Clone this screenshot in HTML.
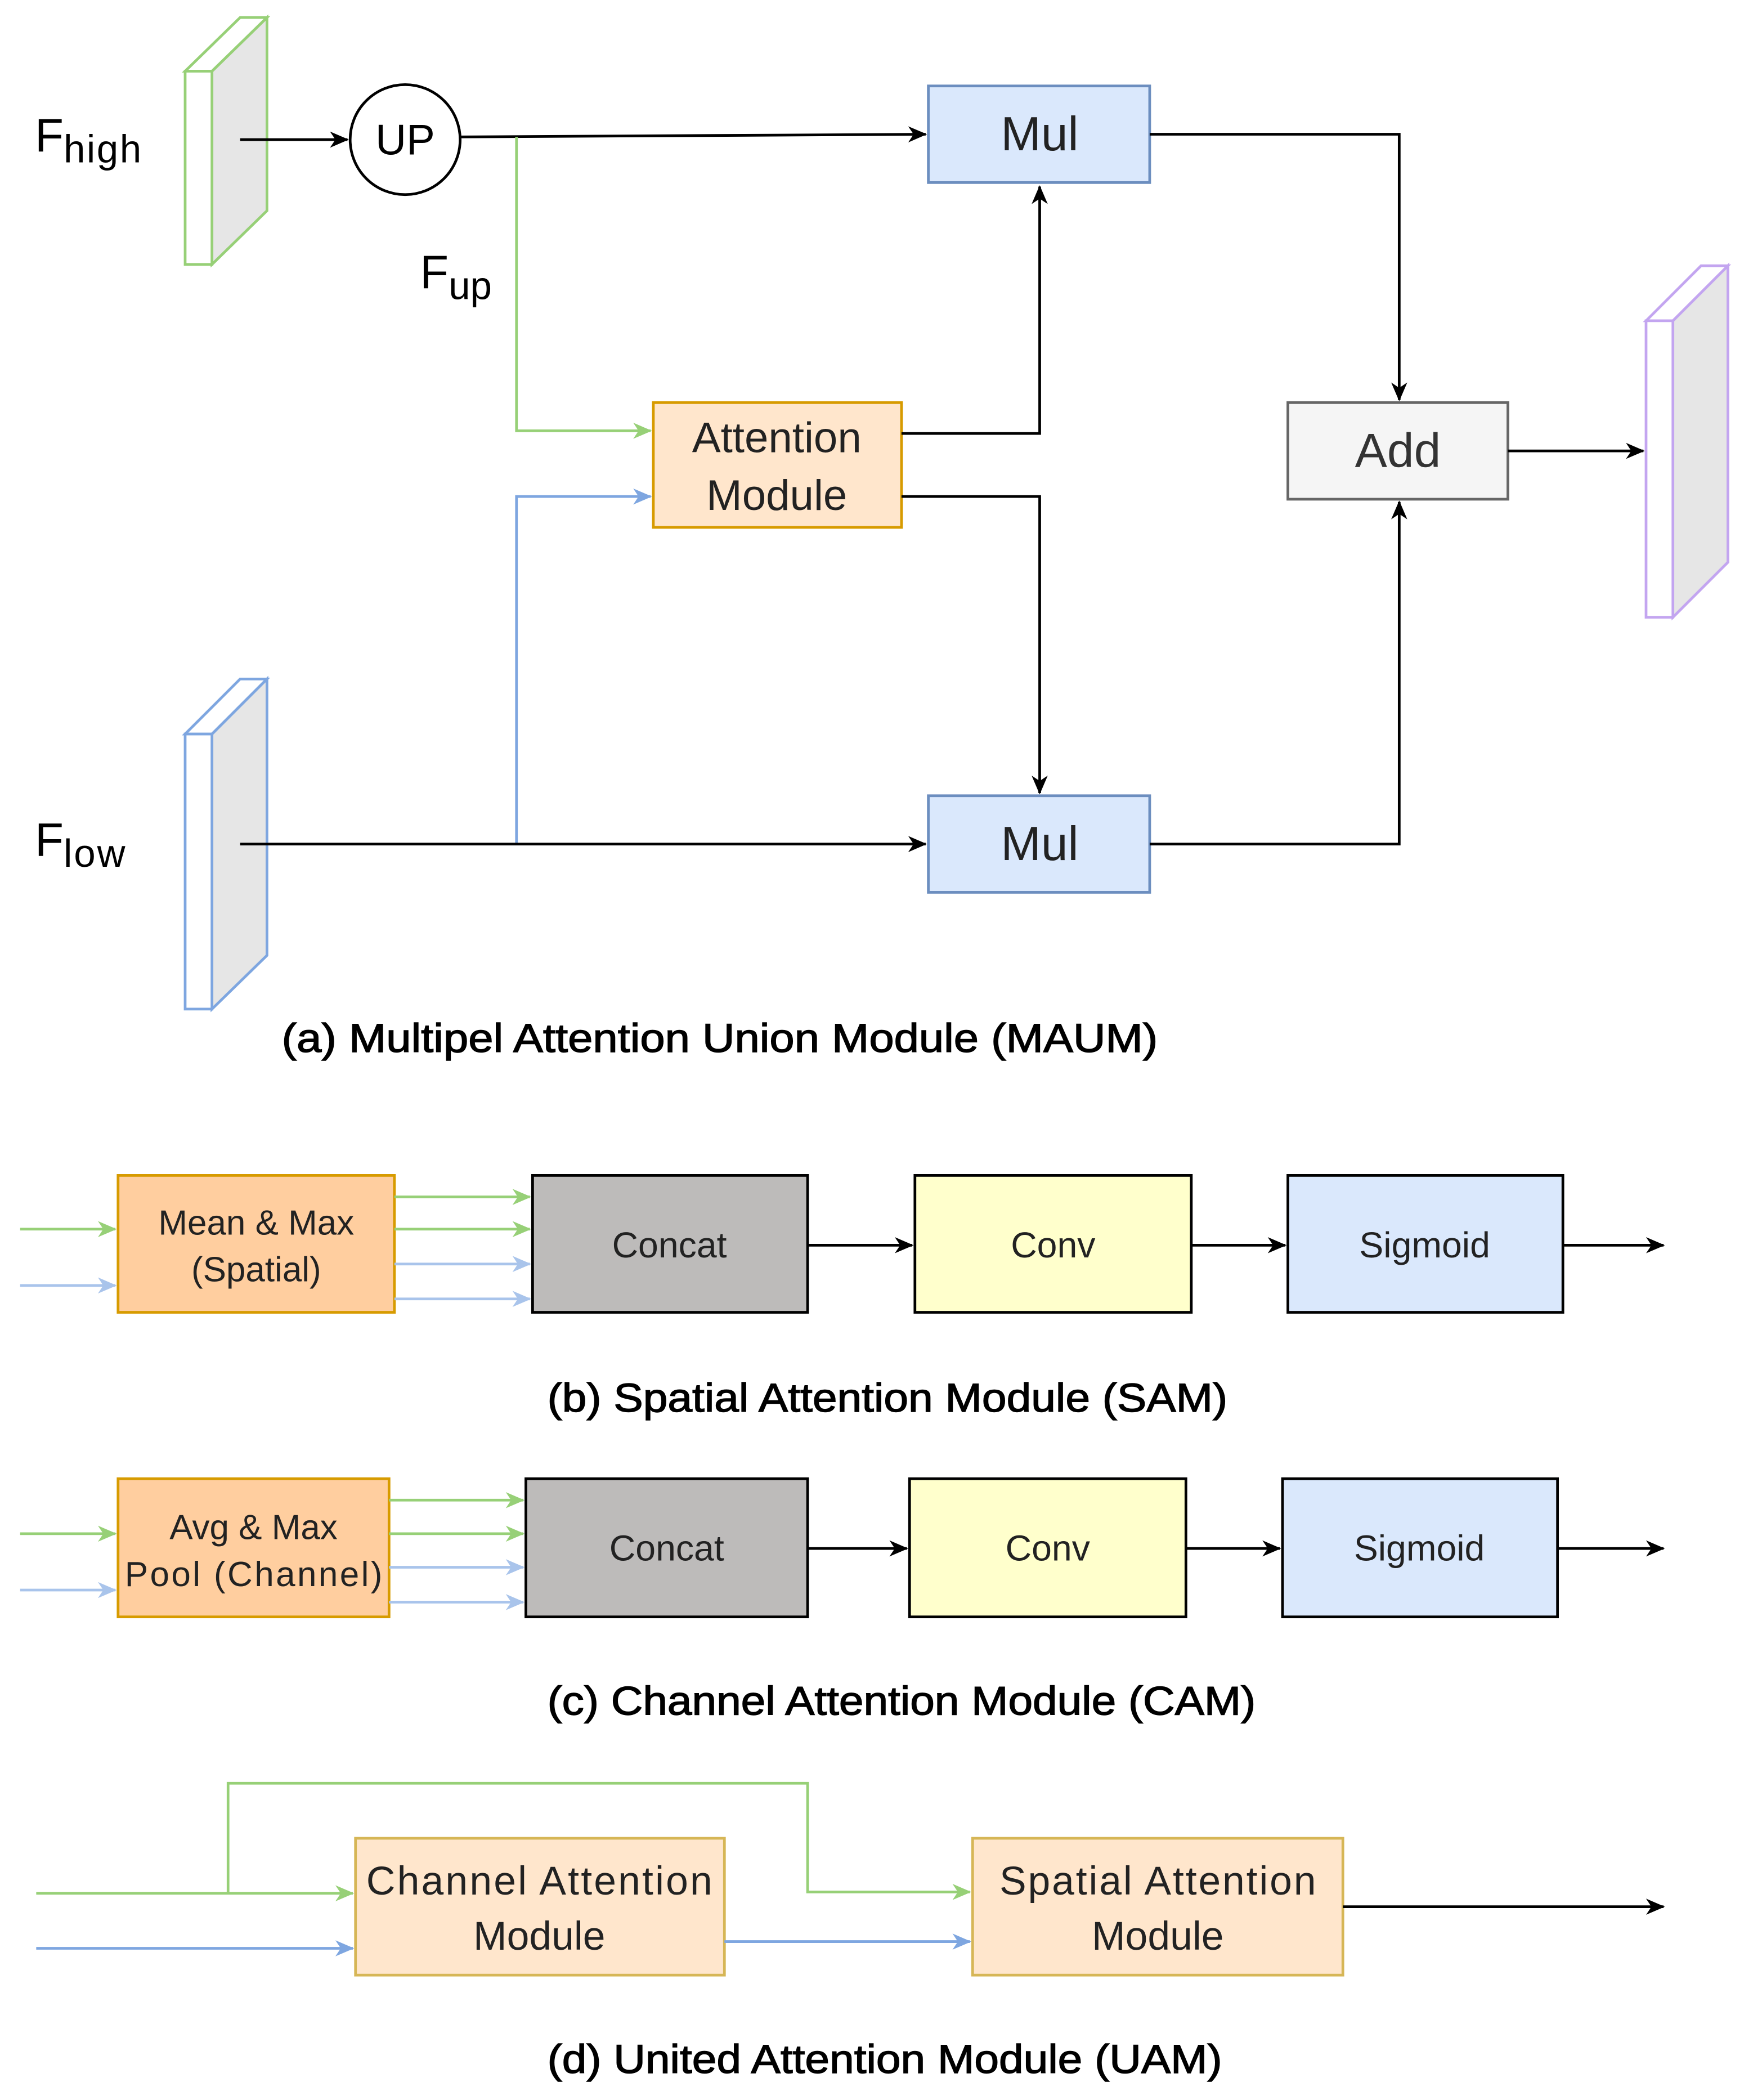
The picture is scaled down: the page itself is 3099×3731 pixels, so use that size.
<!DOCTYPE html>
<html><head><meta charset="utf-8"><style>html,body{margin:0;padding:0;background:#fff}svg{display:block}</style></head>
<body>
<svg width="3099" height="3731" viewBox="0 0 1300 1565" xmlns="http://www.w3.org/2000/svg" font-family="Liberation Sans, Arial, sans-serif">
<defs>
<marker id="ak" markerWidth="14" markerHeight="14" refX="13" refY="7" orient="auto" markerUnits="userSpaceOnUse"><path d="M0,1 L14,7 L0,13 L4,7z" fill="#000"/></marker>
<marker id="ag" markerWidth="14" markerHeight="14" refX="13" refY="7" orient="auto" markerUnits="userSpaceOnUse"><path d="M0,1 L14,7 L0,13 L4,7z" fill="#97D077"/></marker>
<marker id="ab" markerWidth="14" markerHeight="14" refX="13" refY="7" orient="auto" markerUnits="userSpaceOnUse"><path d="M0,1 L14,7 L0,13 L4,7z" fill="#7EA6E0"/></marker>
<marker id="al" markerWidth="14" markerHeight="14" refX="13" refY="7" orient="auto" markerUnits="userSpaceOnUse"><path d="M0,1 L14,7 L0,13 L4,7z" fill="#A9C4EB"/></marker>
</defs>
<g stroke-width="2">
<polygon points="158,53 199,13 199,157 158,197" fill="#E6E6E6" stroke="#97D077"/>
<polygon points="138,53 179,13 199,13 158,53" fill="#fff" stroke="#97D077"/>
<rect x="138" y="53" width="20" height="144" fill="#fff" stroke="#97D077"/>
<polygon points="158,547 199,506 199,712 158,752" fill="#E6E6E6" stroke="#7EA6E0"/>
<polygon points="138,547 179,506 199,506 158,547" fill="#fff" stroke="#7EA6E0"/>
<rect x="138" y="547" width="20" height="205" fill="#fff" stroke="#7EA6E0"/>
<polygon points="1247,239 1288,198 1288,419 1247,460" fill="#E6E6E6" stroke="#C3A5F0"/>
<polygon points="1227,239 1268,198 1288,198 1247,239" fill="#fff" stroke="#C3A5F0"/>
<rect x="1227" y="239" width="20" height="221" fill="#fff" stroke="#C3A5F0"/>

<circle cx="302" cy="104" r="41" fill="#fff" stroke="#000"/>
<rect x="692" y="64" width="165" height="72" fill="#DAE8FC" stroke="#6C8EBF"/>
<rect x="692" y="593" width="165" height="72" fill="#DAE8FC" stroke="#6C8EBF"/>
<rect x="487" y="300" width="185" height="93" fill="#FFE6CC" stroke="#D79B00"/>
<rect x="960" y="300" width="164" height="72" fill="#F5F5F5" stroke="#666"/>

<g fill="none">
<path d="M179,104 L259,104" stroke="#000" marker-end="url(#ak)"/>
<path d="M343,102 L690,100" stroke="#000" marker-end="url(#ak)"/>
<path d="M385,102 L385,321 L485,321" stroke="#97D077" marker-end="url(#ag)"/>
<path d="M385,629 L385,370 L485,370" stroke="#7EA6E0" marker-end="url(#ab)"/>
<path d="M179,629 L690,629" stroke="#000" marker-end="url(#ak)"/>
<path d="M672,323 L775,323 L775,139" stroke="#000" marker-end="url(#ak)"/>
<path d="M672,370 L775,370 L775,591" stroke="#000" marker-end="url(#ak)"/>
<path d="M857,100 L1043,100 L1043,298" stroke="#000" marker-end="url(#ak)"/>
<path d="M857,629 L1043,629 L1043,374" stroke="#000" marker-end="url(#ak)"/>
<path d="M1124,336 L1225,336" stroke="#000" marker-end="url(#ak)"/>
</g>

<rect x="88" y="876" width="206" height="102" fill="#FFCE9F" stroke="#D79B00"/>
<rect x="397" y="876" width="205" height="102" fill="#BDBBBA" stroke="#000"/>
<rect x="682" y="876" width="206" height="102" fill="#FFFFCC" stroke="#000"/>
<rect x="960" y="876" width="205" height="102" fill="#DAE8FC" stroke="#000"/>
<g fill="none">
<path d="M15,916 L86,916" stroke="#97D077" marker-end="url(#ag)"/>
<path d="M15,958 L86,958" stroke="#A9C4EB" marker-end="url(#al)"/>
<path d="M294,892 L395,892" stroke="#97D077" marker-end="url(#ag)"/>
<path d="M294,916 L395,916" stroke="#97D077" marker-end="url(#ag)"/>
<path d="M294,942 L395,942" stroke="#A9C4EB" marker-end="url(#al)"/>
<path d="M294,968 L395,968" stroke="#A9C4EB" marker-end="url(#al)"/>
<path d="M602,928 L680,928" stroke="#000" marker-end="url(#ak)"/>
<path d="M888,928 L958,928" stroke="#000" marker-end="url(#ak)"/>
<path d="M1165,928 L1240,928" stroke="#000" marker-end="url(#ak)"/>
</g>
<rect x="88" y="1102" width="202" height="103" fill="#FFCE9F" stroke="#D79B00"/>
<rect x="392" y="1102" width="210" height="103" fill="#BDBBBA" stroke="#000"/>
<rect x="678" y="1102" width="206" height="103" fill="#FFFFCC" stroke="#000"/>
<rect x="956" y="1102" width="205" height="103" fill="#DAE8FC" stroke="#000"/>
<g fill="none">
<path d="M15,1143 L86,1143" stroke="#97D077" marker-end="url(#ag)"/>
<path d="M15,1185 L86,1185" stroke="#A9C4EB" marker-end="url(#al)"/>
<path d="M290,1118 L390,1118" stroke="#97D077" marker-end="url(#ag)"/>
<path d="M290,1143 L390,1143" stroke="#97D077" marker-end="url(#ag)"/>
<path d="M290,1168 L390,1168" stroke="#A9C4EB" marker-end="url(#al)"/>
<path d="M290,1194 L390,1194" stroke="#A9C4EB" marker-end="url(#al)"/>
<path d="M602,1154 L676,1154" stroke="#000" marker-end="url(#ak)"/>
<path d="M884,1154 L954,1154" stroke="#000" marker-end="url(#ak)"/>
<path d="M1161,1154 L1240,1154" stroke="#000" marker-end="url(#ak)"/>
</g>
<rect x="265" y="1370" width="275" height="102" fill="#FFE6CC" stroke="#D6B656"/>
<rect x="725" y="1370" width="276" height="102" fill="#FFE6CC" stroke="#D6B656"/>
<g fill="none">
<path d="M27,1411 L263,1411" stroke="#97D077" marker-end="url(#ag)"/>
<path d="M170,1411 L170,1329 L602,1329 L602,1410 L723,1410" stroke="#97D077" marker-end="url(#ag)"/>
<path d="M27,1452 L263,1452" stroke="#7EA6E0" marker-end="url(#ab)"/>
<path d="M540,1447 L723,1447" stroke="#7EA6E0" marker-end="url(#ab)"/>
<path d="M1001,1421 L1240,1421" stroke="#000" marker-end="url(#ak)"/>
</g>
</g>

<g fill="#000">
<text x="26" y="113" font-size="35">F<tspan font-size="29" dy="8" textLength="58">high</tspan></text>
<text x="26" y="638" font-size="35">F<tspan font-size="29" dy="8" textLength="46">low</tspan></text>
<text x="313" y="215" font-size="35">F<tspan font-size="29" dy="8">up</tspan></text>
<text x="302" y="115" font-size="32" text-anchor="middle">UP</text>
<text x="775" y="112" font-size="36" text-anchor="middle" fill="#222">Mul</text>
<text x="775" y="641" font-size="36" text-anchor="middle" fill="#222">Mul</text>
<text x="1042" y="348" font-size="36" text-anchor="middle" fill="#333">Add</text>
<text x="579" y="337" font-size="32" text-anchor="middle" fill="#222">Attention</text>
<text x="579" y="380" font-size="32" text-anchor="middle" fill="#222">Module</text>
<g stroke="#000" stroke-width="0.6">
<text x="210" y="784" font-size="30" textLength="653" lengthAdjust="spacingAndGlyphs">(a)  Multipel Attention Union Module (MAUM)</text>
<text x="408" y="1052" font-size="30" textLength="507" lengthAdjust="spacingAndGlyphs">(b) Spatial Attention Module (SAM)</text>
<text x="408" y="1278" font-size="30" textLength="528" lengthAdjust="spacingAndGlyphs">(c) Channel Attention Module (CAM)</text>
<text x="408" y="1545" font-size="30" textLength="503" lengthAdjust="spacingAndGlyphs">(d) United Attention Module (UAM)</text>
</g>

<text x="191" y="920" font-size="26" text-anchor="middle" fill="#222">Mean &amp; Max</text>
<text x="191" y="955" font-size="26" text-anchor="middle" fill="#222">(Spatial)</text>
<text x="499" y="937" font-size="27" text-anchor="middle" fill="#222">Concat</text>
<text x="785" y="937" font-size="27" text-anchor="middle" fill="#222">Conv</text>
<text x="1062" y="937" font-size="27" text-anchor="middle" fill="#222">Sigmoid</text>

<text x="189" y="1147" font-size="26" text-anchor="middle" fill="#222">Avg &amp; Max</text>
<text x="189" y="1182" font-size="26" text-anchor="middle" fill="#222" textLength="192">Pool (Channel)</text>
<text x="497" y="1163" font-size="27" text-anchor="middle" fill="#222">Concat</text>
<text x="781" y="1163" font-size="27" text-anchor="middle" fill="#222">Conv</text>
<text x="1058" y="1163" font-size="27" text-anchor="middle" fill="#222">Sigmoid</text>

<text x="402" y="1412" font-size="30" text-anchor="middle" fill="#222" textLength="258">Channel Attention</text>
<text x="402" y="1453" font-size="30" text-anchor="middle" fill="#222">Module</text>
<text x="863" y="1412" font-size="30" text-anchor="middle" fill="#222" textLength="236">Spatial Attention</text>
<text x="863" y="1453" font-size="30" text-anchor="middle" fill="#222">Module</text>
</g>
</svg>
</body></html>
